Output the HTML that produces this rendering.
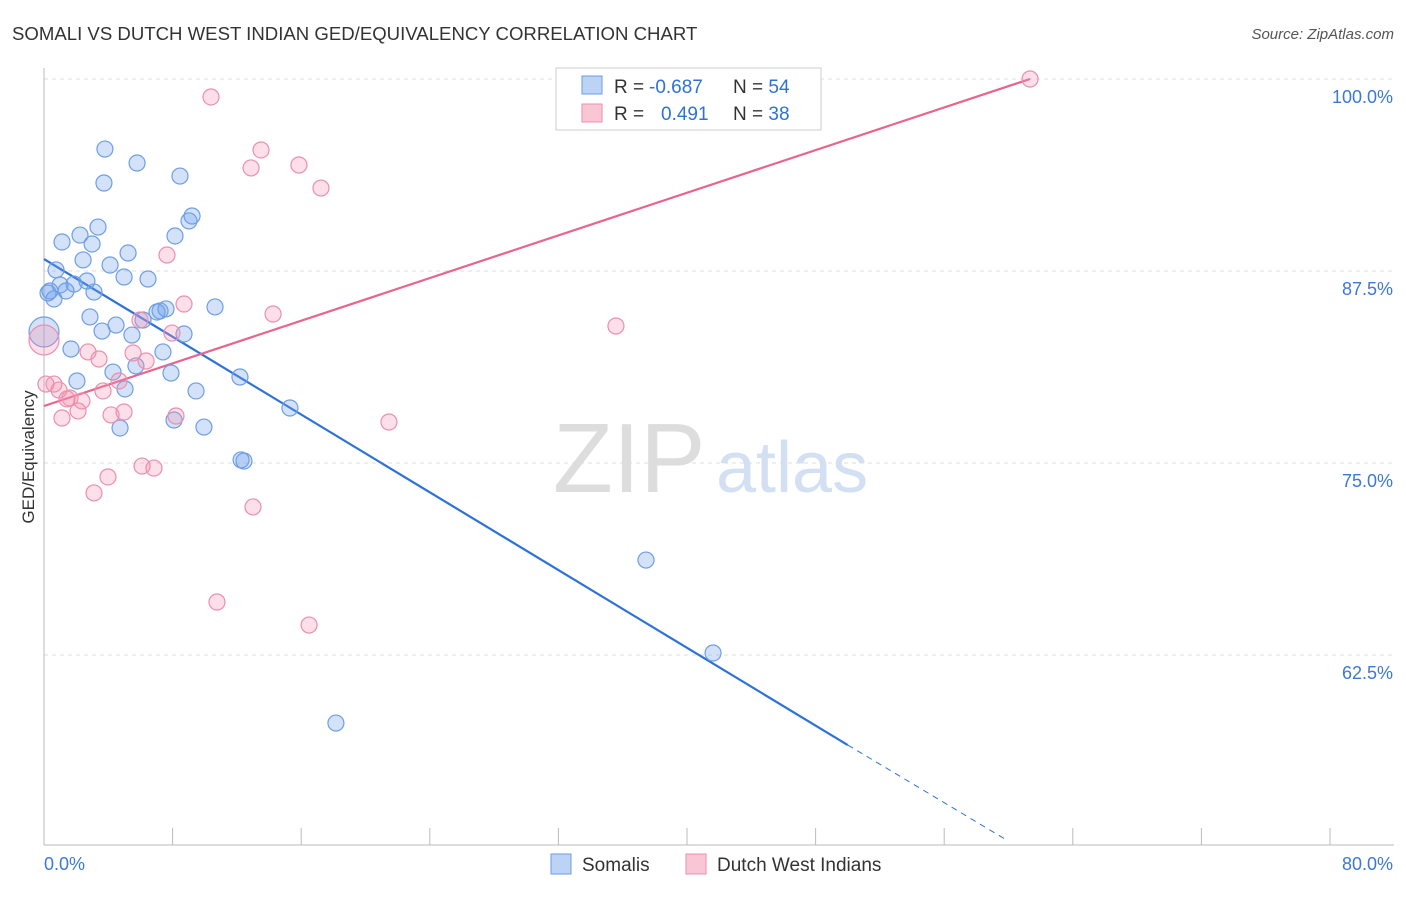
<!DOCTYPE html>
<html><head><meta charset="utf-8">
<style>
body{margin:0;background:#fff;font-family:"Liberation Sans",sans-serif;}
svg text{font-family:"Liberation Sans",sans-serif;}
</style></head>
<body>
<svg id="chart" width="1406" height="892" viewBox="0 0 1406 892" xmlns="http://www.w3.org/2000/svg">
<text x="12" y="40" font-size="18.6" fill="#333">SOMALI VS DUTCH WEST INDIAN GED/EQUIVALENCY CORRELATION CHART</text>
<text x="1394" y="39" font-size="15" fill="#555" font-style="italic" text-anchor="end">Source: ZipAtlas.com</text>
<text x="553" y="492" font-size="98" fill="#ddd" font-family="Liberation Serif">ZIP</text>
<text x="716" y="492" font-size="72" fill="#d3e0f3">atlas</text>
<g id="grid"></g>
<g id="axes"></g>
<text x="34" y="457" font-size="17" fill="#333" text-anchor="middle" transform="rotate(-90 34 457)">GED/Equivalency</text>
<g id="lines"></g>
<g id="points"></g>
<g>
<rect x="556" y="68" width="265" height="62" fill="#fff" stroke="#ccc"/>
<rect x="582" y="76" width="20" height="18" fill="#bcd3f5" stroke="#6d9ee6"/>
<rect x="582" y="104" width="20" height="18" fill="#f9c6d6" stroke="#eb8fad"/>
<text x="614" y="93" font-size="19" fill="#333">R = <tspan fill="#2d72d9" x="649">-0.687</tspan></text>
<text x="733" y="93" font-size="19" fill="#333">N = <tspan fill="#2d72d9">54</tspan></text>
<text x="614" y="120" font-size="19" fill="#333">R = <tspan fill="#2d72d9" x="661">0.491</tspan></text>
<text x="733" y="120" font-size="19" fill="#333">N = <tspan fill="#2d72d9">38</tspan></text>
</g>
<g>
<rect x="551" y="854" width="20" height="20" fill="#bcd3f5" stroke="#6d9ee6"/>
<text x="582" y="871" font-size="19" fill="#333">Somalis</text>
<rect x="686" y="854" width="20" height="20" fill="#f9c6d6" stroke="#eb8fad"/>
<text x="717" y="871" font-size="19" fill="#333">Dutch West Indians</text>
</g>
</svg>
<script>
const yTicks=[100,87.5,75,62.5];
const yTickLabels=["100.0%","87.5%","75.0%","62.5%"];
const xTickCount=10;
const somaliX=[3.79,5.79,3.73,8.46,9.21,9.02,3.36,1.12,2.24,2.99,8.15,5.23,2.43,4.11,0.75,4.98,6.47,2.67,1.00,1.87,0.37,1.37,3.11,0.62,10.64,7.59,7.03,2.86,6.16,4.48,3.61,5.47,8.71,0,1.68,7.40,5.72,4.29,7.90,2.05,12.19,5.04,9.46,15.30,8.09,9.95,4.73,12.26,12.44,37.45,41.62,18.16,7.22,0.25];
const somaliY=[95.44,94.53,93.23,93.68,91.08,90.76,90.36,89.39,89.84,89.26,89.78,88.67,88.22,87.89,87.57,87.11,86.98,86.85,86.59,86.65,86.20,86.20,86.13,85.68,85.16,85.03,84.83,84.51,84.31,83.98,83.59,83.33,83.40,83.53,82.42,82.23,81.32,80.92,80.86,80.34,80.60,79.82,79.69,78.58,77.80,77.34,77.28,75.20,75.13,68.68,62.63,58.07,84.90,86.07];
const somaliBig=[33];
const dutchX=[10.39,61.34,13.50,12.88,15.86,17.23,7.65,8.71,14.25,35.58,5.97,7.96,0,2.74,5.54,3.42,6.35,0.62,4.67,3.67,0.93,1.62,2.36,1.43,2.12,4.98,4.17,1.12,8.21,21.46,6.10,6.84,3.98,3.11,13.00,10.76,16.49,0.12];
const dutchY=[98.83,100,95.38,94.21,94.40,92.90,88.54,85.35,84.70,83.92,84.31,83.46,83.01,82.23,82.16,81.77,81.64,80.14,80.34,79.69,79.75,79.23,79.04,79.17,78.39,78.32,78.13,77.93,78.06,77.67,74.80,74.67,74.09,73.05,72.14,65.95,64.45,80.14];
const dutchBig=[12];
const somaliTrend=[[0,88.28],[50.0,56.64],[59.78,50.52]];
const dutchTrend=[[0,78.71],[61.34,100]];

const NS="http://www.w3.org/2000/svg";
const xs=v=>44+v*16.075;
const ys=v=>79+(100-v)*15.36;
function mk(tag,attrs,parent){const e=document.createElementNS(NS,tag);for(const k in attrs)e.setAttribute(k,attrs[k]);parent.appendChild(e);return e;}
const grid=document.getElementById('grid'),axes=document.getElementById('axes'),lines=document.getElementById('lines'),pts=document.getElementById('points');
yTicks.forEach((t,i)=>{
 const g=mk('line',{x1:44,x2:1394,y1:ys(t),y2:ys(t),stroke:'#ddd','stroke-dasharray':'4,4'},grid);
 
 
 const l=mk('text',{x:1393,y:ys(t)+24,'font-size':18,fill:'#3c78d8','text-anchor':'end'},axes);
 l.textContent=yTickLabels[i];
 
 
});
const ax=mk('line',{x1:44,x2:44,y1:68,y2:845,stroke:'#bbb'},axes);


const bx=mk('line',{x1:44,x2:1394,y1:845,y2:845,stroke:'#bbb'},axes);


for(let i=0;i<=xTickCount;i++){
 const t=mk('line',{x1:xs(i*8),x2:xs(i*8),y1:828,y2:845,stroke:'#bbb'},axes);
 
 
}
const x0=mk('text',{x:44,y:870,'font-size':18,fill:'#3c78d8'},axes);x0.textContent='0.0%';


const x1=mk('text',{x:1393,y:870,'font-size':18,fill:'#3c78d8','text-anchor':'end'},axes);x1.textContent='80.0%';



function drawPts(X,Y,big,fill,stroke,name){
 X.forEach((x,i)=>{
  const c=mk('circle',{cx:xs(x),cy:ys(Y[i]),r:big.includes(i)?15:8,fill:fill,stroke:stroke,'stroke-width':1.2},pts);
  
  
 });
}
drawPts(somaliX,somaliY,somaliBig,'rgba(110,160,235,0.3)','#6d9ee6','somali-point');
drawPts(dutchX,dutchY,dutchBig,'rgba(245,150,180,0.3)','#eb8fad','dutch-point');

const s1=mk('line',{x1:xs(somaliTrend[0][0]),y1:ys(somaliTrend[0][1]),x2:xs(somaliTrend[1][0]),y2:ys(somaliTrend[1][1]),stroke:'#2d72d9','stroke-width':2.2},lines);


const s2=mk('line',{x1:xs(somaliTrend[1][0]),y1:ys(somaliTrend[1][1]),x2:xs(somaliTrend[2][0]),y2:ys(somaliTrend[2][1]),stroke:'#2d72d9','stroke-width':1,'stroke-dasharray':'6,5'},lines);


const d1=mk('line',{x1:xs(dutchTrend[0][0]),y1:ys(dutchTrend[0][1]),x2:xs(dutchTrend[1][0]),y2:ys(dutchTrend[1][1]),stroke:'#e8648c','stroke-width':2.2},lines);


</script>
</body></html>
